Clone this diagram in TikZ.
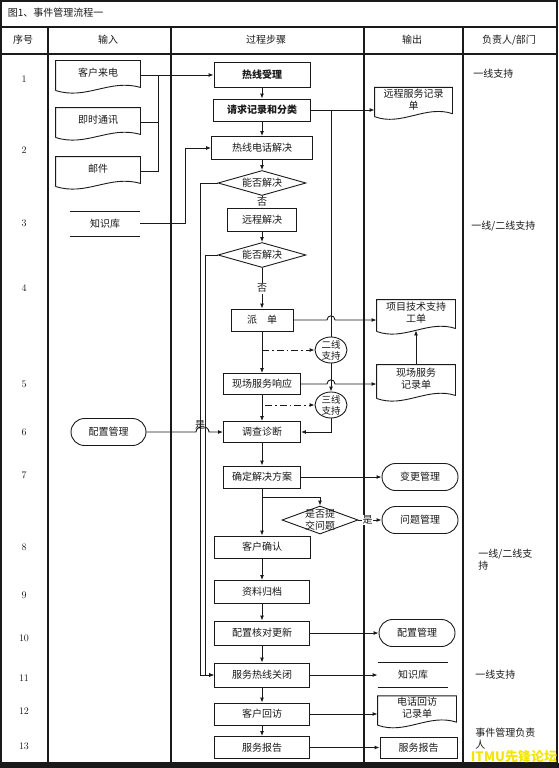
\documentclass[tikz,border=0pt]{standalone}
\usepackage{fontspec}
\newfontfamily\cjk{Noto Sans CJK SC}
\usetikzlibrary{arrows.meta, calc, shapes.geometric, shapes.misc}
\definecolor{cink}{HTML}{1A1A1A}
\definecolor{cmark}{HTML}{F2E600}
\tikzset{
  txt/.style={font=\cjk\fontsize{10}{12}\selectfont, text=cink},
  box/.style={draw=cink, txt, minimum height=23pt, inner sep=1pt},
  doc/.style={txt, align=center, inner sep=1pt, text depth=5pt},
  term/.style={draw=cink, rounded rectangle, txt, minimum width=78pt, minimum height=27pt, inner sep=1pt},
  store/.style={txt, minimum width=70pt, minimum height=24pt, inner sep=0pt,
    append after command={(\tikzlastnode.north west) edge[draw=cink] (\tikzlastnode.north east)
      (\tikzlastnode.south west) edge[draw=cink] (\tikzlastnode.south east)}},
  decide/.style={draw=cink, diamond, txt, aspect=3.5, inner sep=0pt, minimum width=88pt, minimum height=25pt},
  ring/.style={draw=cink, ellipse, txt, align=center, font=\cjk\fontsize{9.5}{11}\selectfont,
    inner sep=-2pt, minimum width=32pt, minimum height=26pt},
  arrow/.style={draw=cink, -{Latex[length=5pt, width=4pt]}},
  dasharrow/.style={arrow, dash pattern=on 7pt off 3pt on 1.5pt off 3pt},
  num/.style={font=\fontsize{10}{12}\selectfont, text=cink},
  duty/.style={txt, anchor=west, align=left, inner sep=0pt},
}
% document outline with a wavy lower edge
\newcommand{\docline}[1]{%
  \draw[cink] ($(#1.south west)+(0,1)$) -- (#1.north west) -- (#1.north east) -- ($(#1.south east)+(0,-2)$)
    .. controls ($(#1.south)+(12,-11)$) and ($(#1.south)+(-12,11)$) .. ($(#1.south west)+(0,1)$);}

\begin{document}
\begin{tikzpicture}[x=1pt, y=-1pt, line width=0.9pt]
  \useasboundingbox (0,0) rectangle (559,768);
  % frame and lanes
  \fill[cink] (0,763) rectangle (559,768);
  \draw[cink, line width=2pt] (1,1) rectangle (557,763);
  \draw[cink, line width=1.2pt] (1,27) -- (557,27) (1,54) -- (557,54);
  \foreach \x in {48,171,364,463} \draw[cink, line width=1.1pt] (\x,27) -- (\x,763);
  \node[txt, anchor=west] (title) at (4,13) {图1、事件管理流程一};
  \foreach \name/\x/\i in {序号/23/1, 输入/108/2, 过程步骤/266/3, 输出/412/4, {负责人/部门}/509/5}
    \node[txt] (h\i) at (\x,40) {\name};
  \foreach \n/\y in {1/79, 2/150, 3/223, 4/288, 5/384, 6/432, 7/475, 8/547, 9/595, 10/638, 11/678, 12/711, 13/746}
    \node[num] (n\n) at (24,\y) {\n};

  % input
  \node[doc, minimum width=84pt, minimum height=28pt] (call) at (98,75) {客户来电};
  \node[doc, minimum width=84pt, minimum height=28pt] (im) at (98,122) {即时通讯};
  \node[doc, minimum width=84pt, minimum height=28pt] (mail) at (98,171) {邮件};
  \foreach \n in {call, im, mail} \docline{\n};
  \node[store] (kbin) at (105,223.5) {知识库};
  \node[term, minimum width=77pt] (cfgin) at (108.5,432) {配置管理};

  % process steps
  \node[box, minimum width=96pt, minimum height=25pt, font=\cjk\bfseries\fontsize{10}{12}\selectfont] (hot) at (262,75) {热线受理};
  \node[box, minimum width=97pt, minimum height=22pt, font=\cjk\bfseries\fontsize{10}{12}\selectfont] (req) at (262,110) {请求记录和分类};
  \node[box, minimum width=101pt] (phone) at (262,148) {热线电话解决};
  \node[decide] (dec1) at (262,183) {能否解决};
  \node[box, minimum width=69pt] (remote) at (262,220) {远程解决};
  \node[decide] (dec2) at (262,255) {能否解决};
  \node[box, minimum width=62pt, minimum height=22pt] (dispatch) at (262,320) {派\quad 单};
  \node[box, minimum width=77pt, minimum height=21pt] (onsite) at (262,384) {现场服务响应};
  \node[box, minimum width=77pt, minimum height=21pt] (diag) at (262,432) {调查诊断};
  \node[box, minimum width=77pt, minimum height=22pt] (plan) at (262,477) {确定解决方案};
  \node[draw=cink, diamond, minimum width=76pt, minimum height=28pt, inner sep=0pt,
    label={[txt, align=center]center:是否提\\交问题}] (ask) at (320,520) {};
  \node[box, minimum width=96pt, minimum height=22pt] (confirm) at (262,547) {客户确认};
  \node[box, minimum width=95pt] (archive) at (262,592) {资料归档};
  \node[box, minimum width=95pt, minimum height=24pt] (cfgchk) at (262,633) {配置核对更新};
  \node[box, minimum width=95pt, minimum height=24pt] (close) at (262,675) {服务热线关闭};
  \node[box, minimum width=95pt, minimum height=22pt] (revisit) at (262,714) {客户回访};
  \node[box, minimum width=95pt, minimum height=22pt] (report) at (262,747.5) {服务报告};
  \node[ring] (sup2) at (331,350) {二线\\支持};
  \node[ring] (sup3) at (331,405) {三线\\支持};

  % output
  \node[doc, minimum width=77pt, minimum height=23pt] (remrec) at (413.5,101.5) {远程服务记录\\单};
  \node[doc, minimum width=78pt, minimum height=30pt] (proj) at (416,315) {项目技术支持\\工单};
  \node[doc, minimum width=78pt, minimum height=32pt] (onrec) at (416,381) {现场服务\\记录单};
  \node[doc, minimum width=78pt, minimum height=24pt] (callrec) at (417,710) {电话回访\\记录单};
  \foreach \n in {remrec, proj, onrec, callrec} \docline{\n};
  \node[term] (change) at (420,477) {变更管理};
  \node[term] (problem) at (420,520) {问题管理};
  \node[term] (cfgout) at (417,633) {配置管理};
  \node[store] (kbout) at (413,675) {知识库};
  \node[box, minimum width=77pt, minimum height=21pt] (repout) at (418.5,747.5) {服务报告};

  % responsible
  \node[duty] (r1) at (473,74) {一线支持};
  \node[duty] (r2) at (471,226) {一线/二线支持};
  \node[duty] (r3) at (478,559.5) {一线/二线支\\持};
  \node[duty] (r4) at (475,675) {一线支持};
  \node[duty] (r5) at (475,738.5) {事件管理负责\\人};

  % inputs into the process
  \coordinate (join) at (158,75);
  \draw[arrow] (call.east) -- (hot.west);
  \draw[cink] (im.east) -| (join);
  \draw[cink] (mail.east) -| (join);
  \draw[arrow] (kbin.east) -- ++(45,0) |- (phone.west);
  \draw[arrow] (cfgin.east) -- (196,432) .. controls +(0,-7) and +(0,-7) .. ++(13,0) -- (diag.west);
  \node[txt] (yes1) at (200,425) {是};

  % main flow
  \foreach \a/\b in {hot/req, req/phone, phone/dec1, remote/dec2, dispatch/onsite, onsite/diag, diag/plan,
      plan/confirm, confirm/archive, archive/cfgchk, cfgchk/close, close/revisit, revisit/report}
    \draw[arrow] (\a) -- (\b);
  \draw[arrow] (dec1) -- node[txt, fill=white, inner sep=0.5pt] (no1) {否} (remote);
  \draw[arrow] (dec2) -- node[txt, fill=white, inner sep=1pt] (no2) {否} (dispatch);
  \draw[arrow] (dec1.west) -- ++(-17,0) |- (close.west);
  \draw[arrow] (dec2.west) -- ++(-12,0) |- (close.west);

  % escalation
  \coordinate (split) at (req.east -| sup2.north);
  \draw[cink] (req.east) -- (split) -- (sup2.north);
  \draw[arrow] (split) -- (split -| remrec.west);
  \draw[arrow] (dispatch.east) -- ($(dispatch.east -| sup2.north)+(-4,0)$) .. controls +(0,-5.5) and +(0,-5.5) .. ++(8,0) -- (dispatch.east -| proj.west);
  \draw[arrow] (onsite.east) -- ($(onsite.east -| sup2.north)+(-4,0)$) .. controls +(0,-5.5) and +(0,-5.5) .. ++(8,0) -- (onsite.east -| onrec.west);
  \draw[arrow] (sup2) -- (sup3);
  \draw[arrow] (sup3.south) |- (diag.east);
  \draw[dasharrow] (dispatch.south |- sup2.west) -- (sup2.west);
  \draw[dasharrow] ($(onsite.south |- sup3.west)+(3,0)$) -- (sup3.west);
  \draw[arrow] (onrec.north) -- (proj.south);

  % outputs
  \coordinate (fork) at ($(plan.south)+(0,9)$);
  \draw[arrow] (fork) -| (ask.north);
  \draw[arrow] (plan) -- (change);
  \draw[arrow] (ask) -- node[txt, fill=white, inner sep=0.5pt, pos=0.4] (yes2) {是} (problem);
  \draw[arrow] (cfgchk) -- (cfgout);
  \draw[arrow] (close) -- (kbout);
  \draw[arrow] (revisit.east) -- (revisit.east -| callrec.west);
  \draw[arrow] (report) -- (repout);

  \node[font=\cjk\bfseries\fontsize{13}{14}\selectfont, text=cmark] (mark) at (514,757) {ITMU先锋论坛};
\end{tikzpicture}
\end{document}
